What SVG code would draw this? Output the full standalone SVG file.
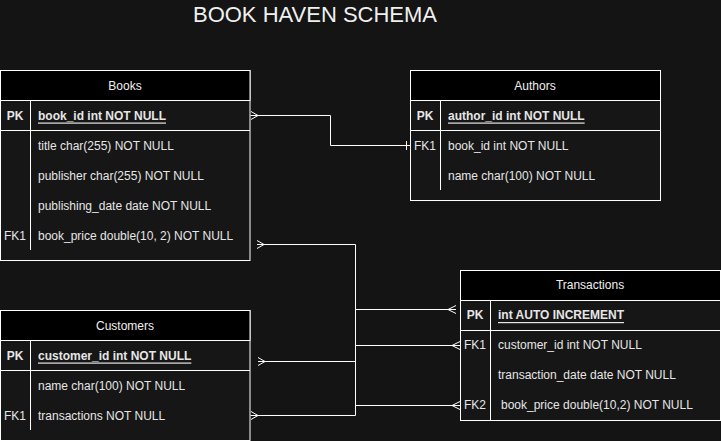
<svg xmlns="http://www.w3.org/2000/svg" width="721" height="441" viewBox="0 0 721 441">
<style>
.bg{fill:#141414}
.body{fill:#161616;stroke:#ffffff;stroke-width:1}
.head{fill:#000000;stroke:#ffffff;stroke-width:1}
.ln{stroke:#ffffff;stroke-width:1;fill:none}
.t{font-family:"Liberation Sans",Arial,sans-serif;font-size:12px;fill:#e6e6e6;dominant-baseline:central}
.h{font-family:"Liberation Sans",Arial,sans-serif;font-size:12px;fill:#f0f0f0;text-anchor:middle;dominant-baseline:central}
.k{font-weight:bold;text-anchor:middle}
.fk{text-anchor:middle}
.pk{font-weight:bold;text-decoration:underline}
.title{font-family:"Liberation Sans",Arial,sans-serif;font-size:22px;fill:#f0f0f0;text-anchor:middle}
.c{stroke:#ffffff;stroke-width:1;fill:none}
</style>
<rect class="bg" x="0" y="0" width="721" height="441"/>
<text class="title" x="315" y="22">BOOK HAVEN SCHEMA</text>

<g id="books">
<rect class="body" x="0.5" y="70.5" width="249.5" height="190"/>
<rect class="head" x="0.5" y="70.5" width="249.5" height="30"/>
<text class="h" x="125" y="85.5">Books</text>
<line class="ln" x1="0.5" y1="130.5" x2="250" y2="130.5"/>
<line class="ln" x1="30.5" y1="100.5" x2="30.5" y2="250"/>
<text class="t k" x="15" y="115.5">PK</text>
<text class="t pk" x="38" y="115.5">book_id int NOT NULL</text>
<text class="t" x="38" y="145.5">title char(255) NOT NULL</text>
<text class="t" x="38" y="175.5">publisher char(255) NOT NULL</text>
<text class="t" x="38" y="205.5">publishing_date date NOT NULL</text>
<text class="t fk" x="15" y="235.5">FK1</text>
<text class="t" x="38" y="235.5">book_price double(10, 2) NOT NULL</text>
</g>

<g id="authors">
<rect class="body" x="410.5" y="70.5" width="250" height="130"/>
<rect class="head" x="410.5" y="70.5" width="250" height="30"/>
<text class="h" x="535" y="85.5">Authors</text>
<line class="ln" x1="410.5" y1="130.5" x2="660.5" y2="130.5"/>
<line class="ln" x1="440.5" y1="100.5" x2="440.5" y2="190"/>
<text class="t k" x="425" y="115.5">PK</text>
<text class="t pk" x="448" y="115.5">author_id int NOT NULL</text>
<text class="t fk" x="425" y="145.5">FK1</text>
<text class="t" x="448" y="145.5">book_id int NOT NULL</text>
<text class="t" x="448" y="175.5">name char(100) NOT NULL</text>
</g>

<g id="transactions">
<rect class="body" x="460.5" y="270.5" width="260" height="150"/>
<rect class="head" x="460.5" y="270.5" width="260" height="30"/>
<text class="h" x="590" y="285">Transactions</text>
<line class="ln" x1="460.5" y1="330.5" x2="720.5" y2="330.5"/>
<line class="ln" x1="490.5" y1="300.5" x2="490.5" y2="420.5"/>
<text class="t k" x="475" y="315">PK</text>
<text class="t pk" x="498" y="315">int AUTO INCREMENT</text>
<text class="t fk" x="475" y="345">FK1</text>
<text class="t" x="498" y="345">customer_id int NOT NULL</text>
<text class="t" x="498" y="375">transaction_date date NOT NULL</text>
<text class="t fk" x="475" y="405">FK2</text>
<text class="t" x="501" y="405">book_price double(10,2) NOT NULL</text>
</g>

<g id="customers">
<rect class="body" x="0.5" y="310.5" width="249.5" height="130"/>
<rect class="head" x="0.5" y="310.5" width="249.5" height="30"/>
<text class="h" x="125" y="325.5">Customers</text>
<line class="ln" x1="0.5" y1="370.5" x2="250" y2="370.5"/>
<line class="ln" x1="30.5" y1="340.5" x2="30.5" y2="430"/>
<text class="t k" x="15" y="355.5">PK</text>
<text class="t pk" x="38" y="355.5">customer_id int NOT NULL</text>
<text class="t" x="38" y="385.5">name char(100) NOT NULL</text>
<text class="t fk" x="15" y="415.5">FK1</text>
<text class="t" x="38" y="415.5">transactions NOT NULL</text>
</g>

<g id="connectors">
<path class="c" d="M250.5,115.5 H330.5 V145.5 H410.5"/>
<path class="c" d="M251,111.5 L258,115.5 L251,119.5"/>
<path class="c" d="M406.5,141 V150"/>

<path class="c" d="M257,244.5 H355.5 V415.5 H250.5"/>
<path class="c" d="M257,240.5 L264,244.5 L257,248.5"/>

<path class="c" d="M258,361.5 H355.5"/>
<path class="c" d="M258,357.5 L265,361.5 L258,365.5"/>
<path class="c" d="M251,411.5 L258,415.5 L251,419.5"/>

<path class="c" d="M355.5,309.5 H456"/>
<path class="c" d="M456,305.5 L448,309.5 L456,313.5"/>
<path class="c" d="M355.5,345.5 H460"/>
<path class="c" d="M460,341.5 L452,345.5 L460,349.5"/>
<path class="c" d="M355.5,405.5 H460"/>
<path class="c" d="M460,401.5 L452,405.5 L460,409.5"/>
</g>
</svg>
